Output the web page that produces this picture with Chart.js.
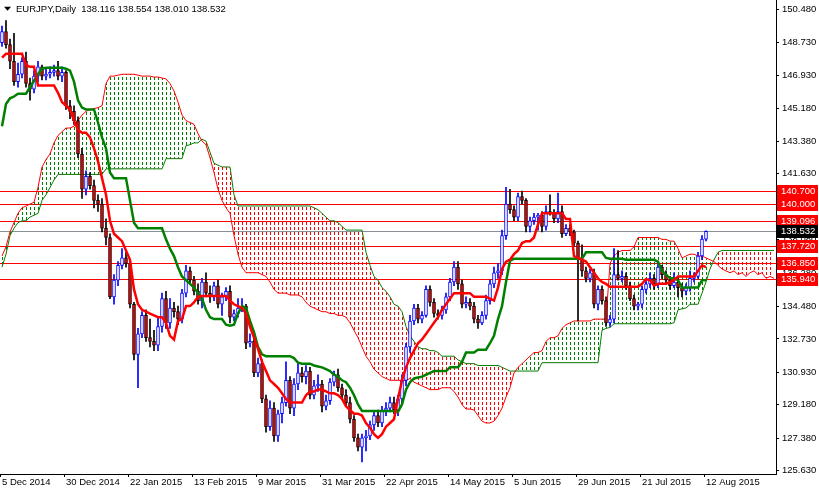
<!DOCTYPE html>
<html><head><meta charset="utf-8">
<script src="https://cdn.jsdelivr.net/npm/chart.js@4.4.1/dist/chart.umd.min.js"></script>
<style>html,body{margin:0;padding:0;background:#fff;overflow:hidden}#w{width:819px;height:499px;margin-top:-8px}</style>
</head><body><div id="w"><canvas id="c"></canvas></div>
<script>
const firstOpen = 148.7;
const closes = [
149.3,148.6,147.7,146.6,147.0,147.7,146.5,146.2,146.9,147.4,
146.9,147.0,147.1,147.2,146.9,147.1,145.3,145.0,144.5,142.7,
140.8,141.5,141.0,140.2,140.0,138.7,138.2,135.0,135.9,136.7,
137.1,136.8,134.6,131.9,133.0,134.0,132.8,132.6,132.4,133.4,
134.9,133.6,134.4,134.2,133.8,135.2,136.4,135.9,135.3,134.8,
135.8,135.2,135.0,135.6,134.6,135.0,135.3,133.9,134.1,134.4,
134.5,132.5,132.6,130.9,131.4,129.5,128.0,129.0,127.5,128.7,
129.3,130.5,129.0,130.3,130.9,130.7,131.0,129.7,130.2,130.3,
129.1,129.4,130.4,130.8,130.1,129.7,129.3,128.4,127.4,126.9,
127.4,127.5,128.1,128.6,128.2,128.9,129.0,129.3,128.9,129.5,
130.5,132.3,133.7,134.4,133.8,134.0,135.4,134.7,134.1,134.0,
134.3,135.0,135.8,136.6,135.7,134.6,134.7,134.5,133.8,133.6,
134.0,134.8,135.7,136.3,136.4,138.3,140.0,139.7,139.3,140.4,
140.2,138.8,139.1,139.3,139.4,138.8,139.6,139.5,139.2,139.6,
138.4,138.7,138.5,137.9,137.0,136.4,136.0,136.3,134.6,135.4,
134.8,133.6,133.8,136.2,136.0,136.1,135.6,134.9,134.5,134.6,
135.4,135.7,136.0,135.7,136.6,136.2,135.9,135.6,135.8,135.5,
135.3,135.5,136.0,136.1,137.2,138.116,138.532];
const highs = [
149.6,149.9,148.9,149.2,147.6,147.9,148.2,146.8,147.2,147.7,
147.5,147.3,147.4,147.5,147.7,147.4,147.2,145.6,145.3,144.7,
143.0,141.8,141.7,141.3,140.5,140.3,139.2,138.4,136.2,136.9,
137.6,137.4,137.0,134.7,133.3,134.2,134.3,133.8,133.2,133.9,
135.2,135.3,134.9,134.7,134.5,135.4,136.7,136.6,136.1,135.7,
136.0,136.3,135.6,135.8,135.9,135.2,135.5,135.6,134.3,134.9,
134.9,134.6,133.0,132.8,131.7,131.6,129.7,129.4,129.3,128.9,
129.6,131.5,130.7,130.6,131.5,131.2,131.3,131.2,130.5,130.8,
130.5,129.7,130.6,131.0,131.1,130.3,130.0,129.6,128.6,127.6,
127.6,127.8,128.3,128.8,128.9,129.1,129.3,129.6,129.6,129.7,
130.8,132.5,134.0,134.6,134.6,134.2,135.6,135.6,134.9,134.3,
134.5,135.2,136.0,136.9,136.9,135.9,135.0,134.9,134.7,134.0,
134.2,135.1,135.9,136.6,136.8,138.6,140.9,140.8,139.9,140.6,
140.7,140.3,139.3,139.5,139.5,139.6,139.9,140.5,139.7,140.6,
139.9,138.9,138.9,138.6,138.0,137.8,136.6,136.5,136.5,135.6,
135.6,135.0,134.0,137.6,137.5,136.4,136.3,135.8,135.1,134.7,
135.6,135.9,136.3,136.2,136.9,136.7,136.4,136.1,136.3,136.0,
135.7,135.7,136.4,136.3,137.4,138.3,138.554];
const lows = [
148.5,148.4,147.3,146.4,146.3,146.8,146.3,145.6,146.0,146.6,
146.7,146.7,146.8,146.9,146.7,146.6,145.1,144.6,144.3,142.5,
140.3,140.5,140.8,139.8,139.6,138.5,137.8,134.9,134.6,135.6,
136.5,136.6,134.4,131.6,130.1,132.8,132.6,132.3,132.1,132.1,
133.1,133.3,133.3,133.9,133.5,133.6,135.0,135.7,135.1,134.6,
134.4,135.0,134.7,134.8,134.4,134.0,134.8,133.6,133.7,133.9,
134.2,132.2,132.3,130.7,130.7,129.3,127.7,127.8,127.2,127.2,
128.2,129.1,128.7,128.6,130.0,130.4,130.3,129.5,129.5,129.9,
128.8,128.9,129.2,130.2,129.9,129.5,129.1,128.2,127.2,126.7,
126.1,126.7,127.3,127.8,128.0,128.0,128.6,128.8,128.7,128.6,
129.3,130.2,132.0,133.5,133.6,133.6,133.9,134.5,133.9,133.8,
133.8,134.1,134.8,135.6,135.4,134.4,134.4,134.3,133.6,133.3,
133.5,133.8,134.6,135.5,136.0,136.2,138.1,139.5,139.1,139.1,
140.0,138.5,138.5,138.9,138.6,138.5,138.6,139.4,139.0,139.0,
138.2,138.3,138.3,137.7,133.7,136.1,135.8,135.8,134.4,134.3,
134.6,133.4,133.4,133.6,135.9,135.8,135.4,134.8,134.3,134.3,
134.4,135.2,135.5,135.4,135.5,136.0,135.7,135.4,135.5,135.0,
135.0,135.1,135.3,135.8,136.0,137.0,138.010];
const tenkan = [
147.9,148.1,148.1,148.1,148.1,148.1,147.5,147.4,147.4,146.4,
146.4,146.4,146.4,146.4,146.0,145.5,145.3,145.1,144.5,144.0,
143.85,143.85,143.6,143.0,142.3,141.4,140.5,139.1,138.4,138.2,
138.0,137.5,137.0,135.4,134.6,134.3,134.2,134.1,134.0,133.9,
133.9,133.6,132.9,132.7,133.7,133.8,134.5,134.5,134.7,135.0,
135.05,135.05,135.05,135.05,135.05,135.05,135.05,134.8,134.6,134.5,
134.4,134.1,133.4,132.8,132.2,131.5,131.0,130.5,130.3,130.1,
129.8,129.5,129.3,129.3,129.3,129.3,129.7,129.9,129.9,130.0,
130.0,129.9,129.8,129.8,129.7,129.5,129.1,128.9,128.7,128.7,
128.6,128.2,127.95,127.6,127.4,127.6,128.0,128.2,128.4,129.5,
130.5,131.2,131.7,132.1,132.5,132.7,133.0,133.3,133.6,133.9,
134.3,134.6,134.9,135.2,135.2,135.2,135.2,135.2,135.0,135.0,
135.0,135.0,134.9,134.8,135.5,136.5,136.9,137.0,137.3,137.5,
137.9,138.0,138.0,138.2,138.9,139.5,139.5,139.5,139.5,139.5,
139.5,139.2,139.2,137.2,137.1,137.0,136.9,136.6,136.3,136.0,
135.8,135.7,135.55,135.55,135.55,135.55,135.55,135.55,135.55,135.55,
135.7,135.95,135.9,135.6,135.7,135.7,135.7,135.8,135.9,136.1,
136.1,136.1,136.1,136.1,136.4,136.7,136.6];
const kijun = [
144.2,145.4,145.7,145.8,145.95,145.95,145.95,146.3,146.65,147.0,
147.3,147.35,147.35,147.35,147.35,147.35,147.3,147.2,146.6,145.6,
145.2,145.1,145.1,145.1,144.4,143.6,143.0,141.7,141.4,141.4,
141.4,141.4,140.2,139.0,138.7,138.7,138.7,138.7,138.7,138.7,
138.7,138.1,137.6,137.2,136.6,136.1,135.9,135.7,135.5,135.2,
134.9,134.3,133.9,133.8,133.8,133.8,133.5,133.45,133.5,134.1,
134.5,134.4,133.7,133.1,132.3,131.9,131.8,131.8,131.8,131.8,
131.8,131.8,131.8,131.7,131.45,131.4,131.4,131.4,131.3,131.25,
131.2,131.1,131.0,130.8,130.7,130.5,130.4,130.1,129.7,129.2,
128.85,128.85,128.85,128.85,128.85,128.85,128.85,128.85,128.85,128.8,
129.2,130.0,130.4,130.6,130.65,130.7,130.8,130.9,131.0,131.0,
131.0,131.0,131.2,131.2,131.2,131.5,132.0,132.0,132.0,132.15,
132.15,132.15,132.5,132.9,133.8,134.5,135.8,136.95,137.05,137.05,
137.05,137.05,137.05,137.05,137.05,137.05,137.05,137.05,137.05,137.05,
137.05,137.05,137.05,137.05,137.05,137.05,137.4,137.4,137.4,137.4,
137.4,137.1,137.05,137.05,137.05,137.05,137.0,137.0,137.0,137.0,
137.0,137.0,137.0,137.0,136.9,136.4,136.2,136.0,136.0,135.9,
135.5,135.5,135.5,135.5,135.5,135.9,135.9];
const spanA = [
137.2,137.7,138.5,139.0,139.5,139.8,139.9,140.0,140.1,140.9,
142.0,142.4,142.7,143.3,143.7,143.9,144.1,144.1,144.2,144.5,
144.8,145.0,145.1,145.15,145.2,145.3,146.5,146.9,146.9,146.95,
147.0,147.0,147.0,147.0,146.95,146.9,146.9,146.9,146.85,146.85,
146.8,146.75,146.5,146.1,145.5,144.8,144.5,144.4,144.3,143.8,
143.4,143.2,142.5,141.7,140.8,140.2,139.8,139.5,138.3,137.3,
136.6,136.3,136.3,136.3,136.3,136.2,136.1,135.8,135.4,135.2,
135.2,135.2,135.1,135.1,135.1,135.0,134.7,134.5,134.4,134.3,
134.2,134.2,134.1,134.1,134.0,134.0,133.9,133.6,133.2,132.8,
132.3,131.8,131.5,131.1,130.9,130.7,130.6,130.5,130.5,130.5,
130.5,130.5,130.6,130.4,130.3,130.2,130.1,130.0,130.0,130.0,
130.1,130.1,130.1,129.9,129.6,129.2,128.95,128.95,128.9,128.6,
128.3,128.2,128.2,128.3,128.6,129.0,129.6,130.1,130.9,131.2,
131.4,131.6,131.8,132.0,132.0,132.1,132.6,132.8,132.8,132.9,
133.3,133.5,133.6,133.7,133.7,133.7,133.7,133.7,133.8,133.8,
133.8,133.8,136.8,137.2,137.4,137.5,137.5,137.5,137.7,138.2,
138.2,138.2,138.2,138.2,138.2,138.1,138.1,138.0,138.0,137.6,
137.1,137.2,137.3,137.3,137.2,137.2,137.1,137.0,136.9,136.7,
136.5,136.4,136.3,136.4,136.2,136.3,136.1,136.3,136.4,136.2,
136.3,136.0,136.1,136.0];
const spanB = [
136.6,137.3,138.3,138.7,139.0,139.1,139.1,139.3,139.4,139.5,
140.2,140.5,140.9,141.3,141.6,141.6,141.6,141.6,141.6,141.6,
141.6,141.6,141.6,141.6,141.6,141.6,141.9,141.9,141.9,141.9,
141.9,141.9,141.9,141.9,141.9,141.9,141.9,141.9,141.9,141.9,
141.9,142.45,142.45,142.45,142.45,142.45,143.15,143.2,143.3,143.3,
143.5,143.4,142.8,142.2,142.1,142.0,142.0,142.0,140.5,139.9,
139.9,139.9,139.9,139.9,139.9,139.9,139.9,139.9,139.9,139.9,
139.9,139.9,139.9,139.9,139.9,139.9,139.9,139.9,139.8,139.7,
139.5,139.3,139.1,139.1,139.0,138.8,138.6,138.6,138.6,138.6,
138.6,137.4,136.7,136.1,135.9,135.5,135.3,135.0,134.6,134.5,
134.2,133.4,132.9,132.6,132.3,132.2,132.2,132.1,132.1,132.0,
131.8,131.8,131.8,131.8,131.6,131.5,131.4,131.4,131.4,131.3,
131.3,131.3,131.3,131.3,131.3,131.2,131.1,131.0,131.0,131.0,
131.0,131.0,131.0,131.0,131.0,131.45,131.45,131.45,131.45,131.45,
131.45,131.45,131.45,131.45,131.45,131.45,131.45,131.45,131.45,131.45,
133.2,133.3,133.35,133.55,133.55,133.55,133.55,133.55,133.55,133.55,
133.55,133.55,133.55,133.55,133.55,133.55,133.55,133.55,133.6,134.3,
134.35,134.4,134.6,134.6,134.6,135.2,135.8,136.5,137.0,137.4,
137.5,137.5,137.5,137.5,137.5,137.5,137.5,137.5,137.5,137.5,
137.5,137.5,137.5,137.5];
const yTicks = [150.48,148.73,146.93,145.18,143.38,141.63,139.88,138.08,136.28,134.48,132.73,130.93,129.18,127.38,125.63];
const dateIdx = [0,16,32,48,64,80,96,112,128,144,160,176];
const dateText = ['5 Dec 2014','30 Dec 2014','22 Jan 2015','13 Feb 2015','9 Mar 2015','31 Mar 2015','22 Apr 2015','14 May 2015','5 Jun 2015','29 Jun 2015','21 Jul 2015','12 Aug 2015'];
const redLevels = [140.7,140.0,139.096,137.72,136.85,135.94];
const priceLevel = 138.532;
const titleText = 'EURJPY,Daily  138.116 138.554 138.010 138.532';

const nSlots = spanA.length;
const labels = [];
for (let i=0;i<nSlots;i++){const k=dateIdx.indexOf(i);labels.push(k>=0?dateText[k]:'');}
const opens = closes.map((c,i)=> i===0?firstOpen:closes[i-1]);
const bull = closes.map((c,i)=> c>=opens[i]);

function pat(color){const c=document.createElement('canvas');c.width=4;c.height=5;const g=c.getContext('2d');g.fillStyle=color;g.fillRect(2,0,1,3);return g.createPattern(c,'repeat');}
const FONT='"Liberation Sans", Arial, sans-serif';

const overlay = {
  id:'overlay',
  beforeDatasetsDraw(chart){
    const {ctx,chartArea:a,scales:{y}}=chart;
    ctx.save();ctx.lineWidth=1;
    ctx.strokeStyle='#ff0000';
    redLevels.forEach(v=>{const p=Math.round(y.getPixelForValue(v))+0.5;ctx.beginPath();ctx.moveTo(a.left,p);ctx.lineTo(a.right,p);ctx.stroke();});
    ctx.strokeStyle='#8a8f96';
    const p=Math.round(y.getPixelForValue(priceLevel))+0.5;ctx.beginPath();ctx.moveTo(a.left,p);ctx.lineTo(a.right,p);ctx.stroke();
    ctx.restore();
  },
  afterDraw(chart){
    const {ctx,chartArea:a,scales:{y}}=chart;
    ctx.save();
    ctx.font='9.5px '+FONT;ctx.textBaseline='middle';ctx.textAlign='left';
    const box=(v,bg)=>{const p=Math.round(y.getPixelForValue(v));ctx.fillStyle=bg;ctx.fillRect(a.right+1,p-6,41,13);ctx.fillStyle='#fff';ctx.fillText(v.toFixed(3),a.right+5,p+0.5);};
    redLevels.forEach(v=>box(v,'#ff0000'));
    box(priceLevel,'#000000');
    const t=a.top;
    ctx.fillStyle='#000';ctx.font='9.5px '+FONT;
    ctx.beginPath();ctx.moveTo(4,t+6);ctx.lineTo(11,t+6);ctx.lineTo(7.5,t+10);ctx.closePath();ctx.fill();
    ctx.fillText(titleText,16,t+8.5);
    ctx.restore();
  }
};

new Chart(document.getElementById('c'),{
  data:{labels,datasets:[
    {type:'line',label:'A',data:spanA,borderColor:'#ff0000',borderWidth:1,pointRadius:0,tension:0,order:6,
     fill:{target:1,above:pat('#008000'),below:pat('#ff0000')}},
    {type:'line',label:'B',data:spanB,borderColor:'#008000',borderWidth:1,pointRadius:0,tension:0,order:6,fill:false},
    {type:'bar',label:'wick',data:highs.map((h,i)=>[lows[i],h]),grouped:false,barThickness:1,
     backgroundColor:bull.map(b=>b?'#0000ff':'#000000'),borderWidth:0,order:4},
    {type:'bar',label:'body',data:closes.map((c,i)=>[opens[i],c]),grouped:false,barThickness:3,minBarLength:1,
     backgroundColor:bull.map(b=>b?'#ffffff':'#ff0000'),borderColor:bull.map(b=>b?'#0000ff':'#000000'),borderWidth:1,borderSkipped:false,order:3},
    {type:'line',label:'Kijun',data:kijun,borderColor:'#008000',borderWidth:2.5,pointRadius:0,tension:0,order:1,fill:false},
    {type:'line',label:'Tenkan',data:tenkan,borderColor:'#ff0000',borderWidth:2.5,pointRadius:0,tension:0,order:0,fill:false}
  ]},
  options:{responsive:true,maintainAspectRatio:false,animation:false,devicePixelRatio:1,
    layout:{padding:0},
    plugins:{legend:{display:false},tooltip:{enabled:false}},
    scales:{
      x:{type:'category',offset:true,
        grid:{drawOnChartArea:false,drawTicks:true,tickLength:3,color:c=>labels[c.index]?'#000':'rgba(0,0,0,0)'},
        border:{display:true,color:'#000'},
        ticks:{autoSkip:false,maxRotation:0,minRotation:0,align:'start',padding:0,color:'#000',font:{family:FONT,size:9.5},
          callback:(v,i)=>labels[i]},
        afterFit:s=>{s.height=17;}},
      y:{position:'right',min:125.45,max:150.965,
        afterBuildTicks:s=>{s.ticks=yTicks.map(v=>({value:v}));},
        grid:{drawOnChartArea:false,drawTicks:true,tickLength:3,color:'#000'},
        border:{display:true,color:'#000'},
        ticks:{color:'#000',padding:3,font:{family:FONT,size:9.5},callback:v=>Number(v).toFixed(3)},
        afterFit:s=>{s.width=43;}}
    }
  },
  plugins:[overlay]
});
</script></body></html>
